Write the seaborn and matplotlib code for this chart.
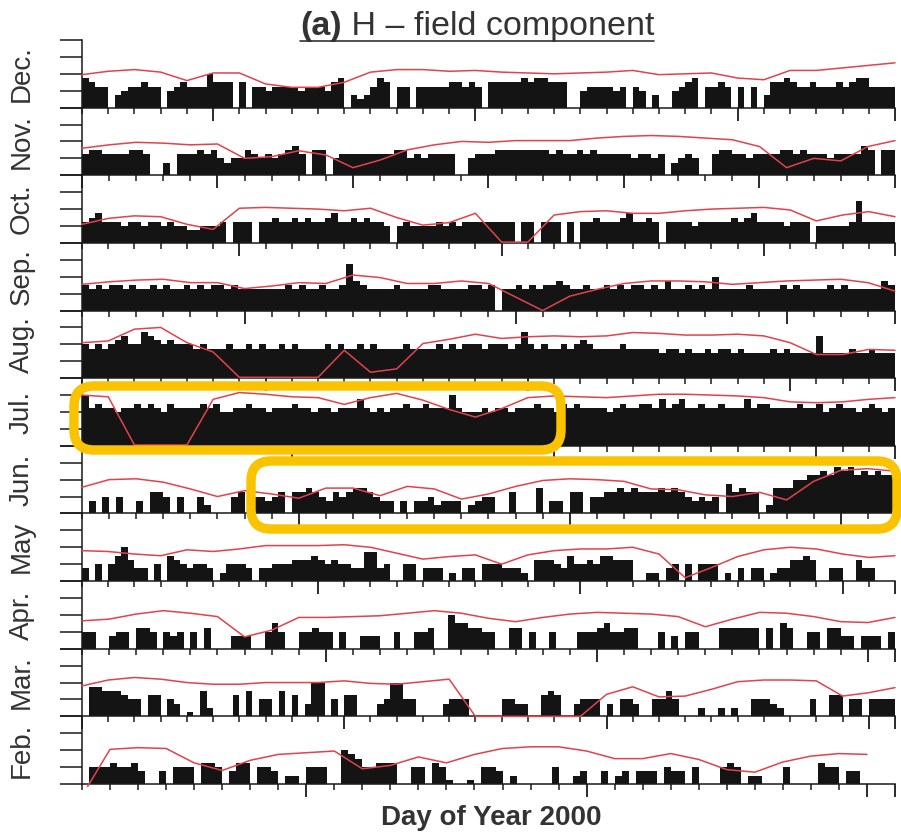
import numpy as np
import pandas as pd
import matplotlib
matplotlib.use("Agg")
import matplotlib.pyplot as plt
import matplotlib.transforms as mtransforms
from matplotlib.patches import FancyBboxPatch
from matplotlib.lines import Line2D
from matplotlib.ticker import FixedLocator, NullFormatter
import seaborn as sns

# ---------------- data ----------------
MONTHS = ["Dec.", "Nov.", "Oct.", "Sep.", "Aug.", "Jul.", "Jun.", "May", "Apr.", "Mar.", "Feb."]
DAYS = [31, 30, 31, 30, 31, 31, 30, 31, 30, 31, 29]
DOY_START = [335, 305, 274, 244, 213, 182, 152, 121, 91, 60, 32]
MAJOR_STEP = [10, 5, 10, 10, 10, 10, 10, 10, 10, 10, 10]

# bar heights, 4 values per day (6-h bins), hex digit = quarter of a y-tick, 0 = no data
BARS_DEC = ("7655" "0345" "5655" "0456" "5558" "6660" "6055" "4555" "5455" "5467" "0323" "5760" "5505" "5555" "6656" "5066"
            "6667" "6776" "6600" "4555" "5450" "5403" "0045" "6705" "5650" "5050" "3667" "6556" "5556" "5677" "5555")
BARS_NOV = ("5665" "5556" "6500" "3055" "5656" "4344" "6545" "4567" "5066" "0455" "5555" "5566" "4545" "5550" "0455"
            "5666" "6666" "6565" "5656" "5555" "5455" "4503" "4540" "0566" "5545" "5556" "6565" "5545" "5557" "6066")
BARS_OCT = ("5675" "5545" "5455" "4544" "3344" "4505" "5505" "5655" "6565" "5675" "5656" "5540" "4544" "4454" "5455" "5555"
            "5505" "5055" "5050" "5565" "5567" "5565" "0555" "5455" "5556" "5675" "5554" "5550" "4444" "45a5" "5555")
BARS_SEP = ("6565" "6656" "5565" "6556" "5656" "6565" "5555" "5565" "6556" "556b" "7655" "5565" "5556" "6555" "5665"
            "6055" "6565" "6676" "5565" "5656" "5665" "6575" "5656" "5855" "5565" "5556" "5655" "5565" "6555" "5576")
BARS_AUG = ("8787" "89a8" "8ba9" "8988" "8787" "7787" "7878" "7787" "8777" "7878" "7787" "8777" "7877" "7787" "8788" "8788"
            "878b" "8787" "7878" "9877" "7787" "7777" "6776" "7667" "6776" "7666" "6767" "6666" "a666" "6766" "7666")
BARS_JUL = ("c9a9" "9899" "a9a9" "8a99" "99a9" "a889" "9a99" "8999" "a998" "9989" "99b9" "8989" "9a99" "a999" "c988" "8989"
            "9899" "9a99" "8a9a" "9999" "89a9" "9aa9" "b9ab" "99a9" "9a99" "9b9a" "a999" "9a99" "a89a" "9989" "a989")
BARS_JUN = ("0304" "0400" "3055" "4040" "0420" "0045" "0443" "4505" "5654" "3545" "6654" "3303" "0334" "2333" "0234"
            "4005" "0006" "0330" "5504" "4556" "5655" "5656" "5434" "3407" "5655" "0266" "6889" "9a9b" "ab9a" "9a99")
BARS_MAY = ("3040" "4685" "3304" "0654" "3443" "0244" "4303" "3444" "5556" "5454" "4337" "7340" "0440" "3330" "2033" "0444"
            "3332" "0555" "4364" "4546" "6555" "0022" "0340" "4044" "4020" "3033" "0233" "5565" "0033" "0053" "3000")
BARS_APR = ("4400" "3440" "5540" "4340" "4050" "0033" "3004" "6400" "4454" "4040" "0333" "0040" "0445" "0086" "6554"
            "4005" "5040" "0400" "0444" "5644" "5500" "0403" "0440" "0055" "5555" "0506" "5004" "4055" "3303" "3304")
BARS_MAR = ("0776" "6654" "4055" "0430" "1062" "0005" "0604" "4060" "5038" "8040" "5500" "0348" "8440" "0003" "4440" "0000"
            "4433" "0056" "5003" "4440" "3044" "3004" "4640" "0020" "0202" "0044" "4320" "0004" "0055" "0440" "4444")
BARS_FEB = ("0444" "5445" "3003" "0444" "0554" "0355" "0443" "0220" "4440" "0876" "4455" "5004" "4054" "1001" "0443"
            "0200" "0004" "0023" "0030" "2303" "3304" "3304" "0004" "5402" "2000" "4000" "0544" "0330" "0000")

# red reference curve, one value per day boundary (y-tick units)
RED_DEC = [1.95, 2.15, 2.25, 2.1, 1.6, 2.05, 2.05, 1.4, 1.2, 1.2, 1.5, 2.1, 2.25, 2.25, 2.15, 2.2, 2.1, 2.05, 2.0, 2.05,
           2.1, 2.2, 1.95, 2.0, 2.05, 1.75, 1.65, 2.2, 2.2, 2.35, 2.5, 2.65]
RED_NOV = [1.6, 1.8, 1.95, 1.9, 1.8, 1.85, 1.0, 1.1, 1.45, 1.2, 0.45, 0.9, 1.5, 1.8, 2.0, 1.95, 2.05, 2.05, 2.05, 2.2,
           2.3, 2.35, 2.3, 2.2, 2.1, 1.7, 0.45, 1.0, 0.85, 1.7, 2.05]
RED_OCT = [1.1, 1.45, 1.6, 1.55, 1.1, 0.8, 2.05, 2.1, 2.05, 2.0, 1.9, 2.05, 1.5, 1.05, 1.2, 1.75, 0.05, 0.05, 1.65, 1.85,
           1.9, 1.75, 1.75, 1.9, 2.0, 2.05, 2.1, 1.95, 1.3, 1.65, 1.85, 1.55]
RED_SEP = [1.55, 1.7, 1.8, 1.85, 1.65, 1.65, 1.3, 1.45, 1.65, 1.6, 2.1, 1.95, 1.6, 1.6, 1.75, 1.6, 0.8, 0.0, 0.85, 1.25,
           1.6, 1.75, 1.75, 1.7, 1.55, 1.65, 1.75, 1.8, 1.85, 1.65, 1.15]
RED_AUG = [2.1, 2.2, 2.9, 3.0, 2.1, 1.55, 0.05, 0.05, 0.05, 0.05, 1.65, 0.35, 0.55, 2.05, 2.3, 2.6, 2.35, 2.45, 2.5, 2.45,
           2.5, 2.7, 2.65, 2.55, 2.55, 2.6, 2.5, 2.1, 1.4, 1.4, 1.7, 1.65]
RED_JUL = [3.0, 2.9, 0.05, 0.05, 0.05, 2.75, 3.15, 3.05, 2.9, 2.85, 2.45, 2.85, 3.1, 2.7, 2.15, 1.7, 2.2, 2.85, 2.95, 2.9,
           2.85, 2.95, 3.05, 3.05, 3.0, 2.95, 2.85, 2.6, 2.55, 2.6, 2.75, 2.85]
RED_JUN = [1.55, 2.0, 2.05, 1.85, 1.45, 1.0, 1.35, 1.15, 0.9, 1.5, 1.5, 1.05, 1.6, 1.45, 0.85, 1.15, 1.6, 1.95, 2.05, 2.0,
           1.9, 1.45, 1.4, 1.1, 1.0, 1.25, 0.8, 1.9, 2.55, 2.65, 2.5]
RED_MAY = [1.8, 1.75, 1.6, 1.5, 1.85, 1.75, 1.9, 2.1, 2.1, 2.1, 2.15, 2.0, 1.65, 1.3, 1.45, 1.55, 1.0, 1.55, 1.8, 1.9,
           1.9, 2.0, 1.6, 0.2, 0.8, 1.45, 1.85, 2.0, 1.9, 1.6, 1.4, 1.5]
RED_APR = [1.65, 1.75, 2.05, 2.25, 2.1, 1.9, 0.7, 1.1, 1.85, 1.85, 1.9, 1.95, 2.1, 2.25, 2.1, 1.8, 1.6, 1.85, 2.05, 2.15,
           2.1, 2.05, 1.9, 1.3, 1.75, 2.15, 2.1, 1.9, 1.6, 1.55, 1.85]
RED_MAR = [1.8, 2.15, 2.3, 2.2, 2.0, 1.9, 1.9, 2.0, 2.0, 2.0, 2.1, 1.95, 1.9, 2.05, 2.2, 0.0, 0.0, 0.0, 0.0, 0.0,
           1.3, 1.75, 1.15, 1.2, 1.6, 2.05, 2.15, 2.15, 2.1, 1.2, 1.4, 1.7]
RED_FEB = [-0.15, 2.05, 2.15, 2.1, 1.25, 0.8, 1.4, 1.75, 1.85, 1.95, 0.9, 1.1, 1.6, 1.25, 1.75, 2.1, 2.2, 2.2, 1.95, 1.5,
           1.5, 1.8, 1.45, 0.85, 0.7, 1.3, 1.65, 1.8, 1.75]
RED_START = [0, 0, 0, 0, 0, 0, 0, 0, 0, 0, 0.2]

BARS = [BARS_DEC, BARS_NOV, BARS_OCT, BARS_SEP, BARS_AUG, BARS_JUL, BARS_JUN, BARS_MAY, BARS_APR, BARS_MAR, BARS_FEB]
REDS = [RED_DEC, RED_NOV, RED_OCT, RED_SEP, RED_AUG, RED_JUL, RED_JUN, RED_MAY, RED_APR, RED_MAR, RED_FEB]

TITLE_TAG = "(a)"
TITLE_TEXT = " H \u2013 field component"
XLABEL = "Day of Year 2000"

# ---------------- style ----------------
sns.set_style("ticks")
plt.rcParams["font.family"] = ["Liberation Sans", "DejaVu Sans"]

W, H = 901, 835
fig = plt.figure(figsize=(W / 100, H / 100), dpi=100)

X0, X1 = 82, 895
TOP, BOT = 40, 784
PH = (BOT - TOP) / len(MONTHS)
BAR_COLOR = "#141414"
RED_COLOR = "#e2424c"
INK = "#1a1a1a"
TXT = "#333333"

n = len(MONTHS)
for i in reversed(range(n)):  # bottom panel first, so upper panels' ticks draw on top
    name, nd, start, step = MONTHS[i], DAYS[i], DOY_START[i], MAJOR_STEP[i]
    bars, red, rs = BARS[i], REDS[i], RED_START[i]
    top = TOP + PH * i
    ax = fig.add_axes([X0 / W, 1 - (top + PH) / H, (X1 - X0) / W, PH / H])
    ax.set_facecolor("none")
    ax.set_zorder(n - i)

    heights = np.array([int(c, 16) * 0.25 for c in bars])
    nb = len(heights)
    bw = nd / nb
    centers = (np.arange(nb) + 0.5) * bw
    df = pd.DataFrame({"day": centers, "h": heights})
    sns.histplot(data=df, x="day", weights="h", binwidth=bw, binrange=(0, nd), ax=ax, color=BAR_COLOR,
                 element="bars", fill=True, alpha=1, linewidth=0, edgecolor=BAR_COLOR)

    rx = np.concatenate([[rs], np.arange(1, len(red))]).astype(float)
    rdf = pd.DataFrame({"day": rx, "v": red})
    sns.lineplot(data=rdf, x="day", y="v", ax=ax, color=RED_COLOR, linewidth=1.1,
                 estimator=None, sort=False, clip_on=False, zorder=5)

    ax.set_xlim(0, nd)
    ax.set_ylim(0, 4)
    ax.set_xlabel("")
    ax.set_ylabel("")
    ax.yaxis.set_major_locator(FixedLocator([0, 1, 2, 3, 4]))
    ax.yaxis.set_major_formatter(NullFormatter())
    majors = sorted(set([d for d in range(nd + 1) if (start + d) % step == 0] + [nd]))
    ax.xaxis.set_major_locator(FixedLocator(majors))
    ax.xaxis.set_minor_locator(FixedLocator(list(range(nd + 1))))
    ax.xaxis.set_major_formatter(NullFormatter())
    ax.xaxis.set_minor_formatter(NullFormatter())
    ax.tick_params(axis="y", which="major", direction="out", length=16, width=1.1, color=INK, left=True)
    ax.tick_params(axis="y", which="minor", left=False)
    ax.tick_params(axis="x", which="major", direction="out", length=9, width=1.3, color=INK, bottom=True)
    ax.tick_params(axis="x", which="minor", direction="out", length=4.5, width=1.1, color=INK, bottom=True)
    for s in ("top", "right"):
        ax.spines[s].set_visible(False)
    for s in ("left", "bottom"):
        ax.spines[s].set_linewidth(1.1)
        ax.spines[s].set_color(INK)

    fig.text(22 / W, 1 - (top + PH / 2) / H, name, rotation=90, ha="center", va="center",
             fontsize=20, color=TXT)

# title with underline
renderer = fig.canvas.get_renderer()
t1 = fig.text(300 / W, 1 - 35 / H, TITLE_TAG, ha="left", va="baseline", fontsize=24.5,
              fontweight="bold", color=TXT)
bb1 = t1.get_window_extent(renderer)
t2 = fig.text(bb1.x1 / W, 1 - 35 / H, TITLE_TEXT, ha="left", va="baseline", fontsize=24.5, color=TXT)
bb2 = t2.get_window_extent(renderer)
fig.add_artist(Line2D([bb1.x0 / W, bb2.x1 / W], [1 - 41 / H, 1 - 41 / H], color=TXT, linewidth=1.2,
                      transform=fig.transFigure))

fig.text(491 / W, 1 - 818 / H, XLABEL, ha="center", va="center", fontsize=20, fontweight="bold", color=TXT)

# highlight boxes (pixel coordinates)
YEL = "#F9C300"
ident = mtransforms.IdentityTransform()
for (x0, y0, x1, y1) in [(74, 386, 561, 450), (251, 461, 897, 529)]:
    p = FancyBboxPatch((x0, H - y1), x1 - x0, y1 - y0, boxstyle="round,pad=0,rounding_size=20",
                       linewidth=6.8, edgecolor=YEL, facecolor="none", transform=ident, zorder=30)
    fig.add_artist(p)

fig.savefig("out.png", dpi=100)
